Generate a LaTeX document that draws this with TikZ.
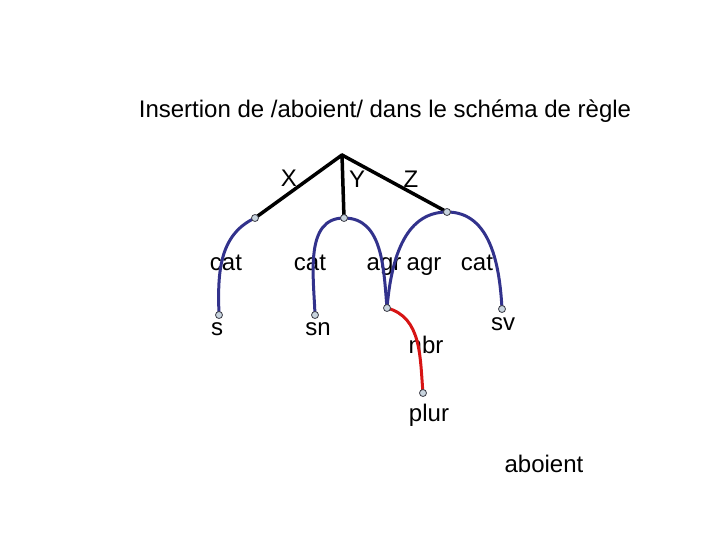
\documentclass[tikz,border=0pt]{standalone}
\usepackage{fontspec}
\setmainfont{Liberation Sans}
\definecolor{arcblue}{RGB}{50,50,140}
\definecolor{arcred}{RGB}{215,20,20}
\definecolor{dotfill}{RGB}{200,212,222}
\definecolor{dotline}{RGB}{60,60,70}
\begin{document}
\begin{tikzpicture}[x=1pt,y=-1pt,
  lbl/.style={anchor=base,inner sep=0pt,font=\fontsize{24}{28}\selectfont},
  dotnode/.style={circle,draw=dotline,fill=dotfill,line width=0.8pt,inner sep=0pt,minimum size=7pt},
  rootnode/.style={inner sep=0pt,minimum size=0pt},
  trunk/.style={line width=3.5pt,black},
  barc/.style={line width=3pt,arcblue},
  rarc/.style={line width=3pt,arcred}]
\useasboundingbox (0,0) rectangle (720,540);
% labels
\node[lbl] (title) at (385,118) {Insertion de /aboient/ dans le schéma de règle};
\node[lbl] (lX) at (289,187) {X};
\node[lbl] (lY) at (357,188) {Y};
\node[lbl] (lZ) at (411,188) {Z};
\node[lbl] (lcat1) at (226,270) {cat};
\node[lbl] (lcat2) at (310,270) {cat};
\node[lbl] (lagr1) at (384,270) {agr};
\node[lbl] (lagr2) at (424,270) {agr};
\node[lbl] (lcat3) at (477,270) {cat};
\node[lbl] (ls) at (217,335) {s};
\node[lbl] (lsn) at (318,335) {sn};
\node[lbl] (lsv) at (503,330) {sv};
\node[lbl] (lnbr) at (426,353) {nbr};
\node[lbl] (lplur) at (429,421) {plur};
\node[lbl] (laboient) at (544,472) {aboient};
% structure points
\coordinate (root) at (342,155);
\coordinate (pX) at (255,218);
\coordinate (pY) at (344,218);
\coordinate (pZ) at (447,212);
\coordinate (ps) at (219,315);
\coordinate (psn) at (315,315);
\coordinate (pagr) at (387,308);
\coordinate (psv) at (502,309);
\coordinate (pplur) at (423,393);
% trunk lines
\draw[trunk,line cap=round,line join=round] (pX) -- (root) -- (pY);
\draw[trunk,line cap=round] (root) -- (pZ);
% arcs
\draw[barc] (pX) to[out=205,in=92] (ps);
\draw[barc] (psn) to[out=92,in=180] (pY) to[out=0,in=95] (pagr);
\draw[barc] (pagr) to[out=85,in=180] (pZ) to[out=0,in=93] (psv);
\draw[rarc] (pagr) to[out=-15,in=95] (pplur);
% dots
\foreach \p/\n in {pX/dX,pY/dY,pZ/dZ,ps/ds,psn/dsn,pagr/dagr,psv/dsv,pplur/dplur}
  \node[dotnode] (\n) at (\p) {};
\end{tikzpicture}
\end{document}
